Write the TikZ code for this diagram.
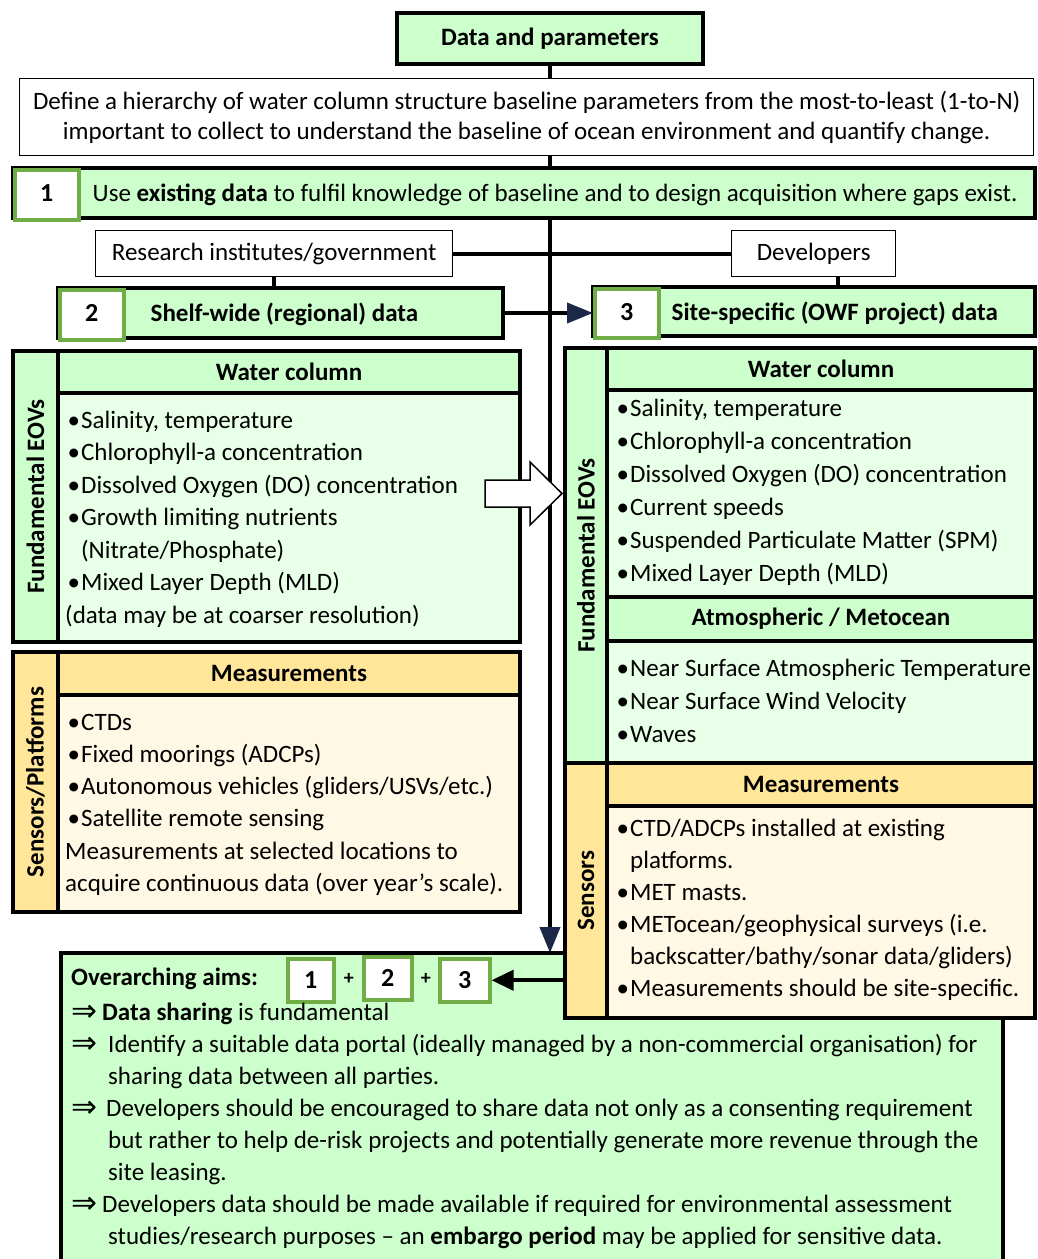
\documentclass[tikz,border=0pt]{standalone}
\usepackage{fontspec}
\setmainfont{Carlito}
\newfontfamily\symfont{DejaVu Sans}
\usetikzlibrary{arrows.meta,calc,positioning,backgrounds}

\definecolor{HeadClr}{RGB}{204,255,204}
\definecolor{BodyClr}{RGB}{232,255,232}
\definecolor{NumClr}{RGB}{112,173,71}
\definecolor{SensClr}{RGB}{255,230,153}
\definecolor{SensBodyClr}{RGB}{255,248,228}
\definecolor{TipClr}{RGB}{28,40,72}

\newcommand{\bl}{\hspace*{2.5pt}\textbullet\hspace{1pt}}
\newcommand{\blind}{\hspace*{2.5pt}\hphantom{\textbullet}\hspace{1pt}}
\newcommand{\imp}[1]{\makebox[#1][l]{\raisebox{-1.5pt}{\symfont\fontsize{31}{31}\selectfont ⇒}}}
\newcommand{\fst}{\rule{0pt}{19pt}}

\tikzset{
  frame/.style={draw=black,line width=3.5pt,inner sep=0pt,outer sep=0pt,anchor=north west},
  plain/.style={draw=black,line width=1.3pt,fill=white,inner sep=0pt,anchor=north west,font=\fontsize{25}{30}\selectfont},
  numbox/.style={draw=NumClr,line width=3.5pt,fill=white,inner sep=0pt,anchor=north west,font=\fontsize{26}{26}\selectfont\bfseries},
  hdr/.style={font=\fontsize{25}{30}\selectfont\bfseries},
  sidelbl/.style={rotate=90,inner sep=0pt,font=\fontsize{25}{30}\selectfont\bfseries},
  items/.style={anchor=north west,align=left,inner sep=0pt,font=\fontsize{25}{32.5}\selectfont},
  link/.style={line width=4pt},
  tipline/.style={line width=4pt,-{Triangle[length=26pt,width=20pt,color=TipClr]}},
}

\begin{document}
\begin{tikzpicture}[x=1pt,y=-1pt]
\useasboundingbox (0,0) rectangle (1037,1259);

% top of the chain
\node[frame,fill=HeadClr,minimum width=306,minimum height=51,hdr] (dp) at (397,13) {Data and parameters};
\node[plain,minimum width=1014,minimum height=77,align=center] (hier) at (19,78)
  {Define a hierarchy of water column structure baseline parameters from the most-to-least (1-to-N)\\
   important to collect to understand the baseline of ocean environment and quantify change.};

\node[frame,fill=HeadClr,minimum width=1022,minimum height=50] (s1) at (13,168) {};
\node[numbox,minimum width=64,minimum height=50] (n1) at (13,168) {\raisebox{3pt}{1}};
\node[right=12pt of n1,inner sep=0pt,font=\fontsize{25}{30}\selectfont] (s1txt)
  {Use \textbf{existing data} to fulfil knowledge of baseline and to design acquisition where gaps exist.};

\node[plain,minimum width=357,minimum height=46] (res) at (95,230) {Research institutes/government};
\node[plain,minimum width=164,minimum height=46] (dev) at (731,230) {Developers};

\node[frame,fill=HeadClr,minimum width=445,minimum height=50] (s2) at (58,288) {};
\node[numbox,minimum width=64,minimum height=50] (n2) at (58,288) {\raisebox{3pt}{2}};
\node[hdr,right=25pt of n2,inner sep=0pt] (s2txt) {Shelf-wide (regional) data};

\node[frame,fill=HeadClr,minimum width=442,minimum height=49] (s3) at (593,287) {};
\node[numbox,minimum width=64,minimum height=49] (n3) at (593,287) {\raisebox{3pt}{3}};
\node[hdr,right=11pt of n3,inner sep=0pt] (s3txt) {Site-specific (OWF project) data};

% shelf-wide panels
\node[frame,fill=HeadClr,minimum width=507,minimum height=291] (eovL) at (13,351) {};
\node[frame,fill=HeadClr,minimum width=462,minimum height=42,hdr] (wcL) at (58,351) {Water column};
\node[frame,fill=BodyClr,minimum width=462,minimum height=249] (wcLbody) at (58,393) {};
\node[sidelbl] (eovLlbl) at (35.5,496.5) {Fundamental EOVs};
\node[items] (wcLlist) at (65,409)
  {\fst\bl Salinity, temperature\\
   \bl Chlorophyll-a concentration\\
   \bl Dissolved Oxygen (DO) concentration\\
   \bl Growth limiting nutrients\\
   \blind(Nitrate/Phosphate)\\
   \bl Mixed Layer Depth (MLD)\\
   (data may be at coarser resolution)};

\node[frame,fill=SensClr,minimum width=507,minimum height=260] (senL) at (13,652) {};
\node[frame,fill=SensClr,minimum width=462,minimum height=43,hdr] (msL) at (58,652) {Measurements};
\node[frame,fill=SensBodyClr,minimum width=462,minimum height=217] (msLbody) at (58,695) {};
\node[sidelbl] (senLlbl) at (35.5,782) {Sensors/Platforms};
\node[items,font=\fontsize{25}{32.2}\selectfont] (msLlist) at (65,711)
  {\fst\bl CTDs\\
   \bl Fixed moorings (ADCPs)\\
   \bl Autonomous vehicles (gliders/USVs/etc.)\\
   \bl Satellite remote sensing\\
   Measurements at selected locations to\\
   acquire continuous data (over year’s scale).};

\draw[line width=1.5pt,fill=white] (485,480) -- (530,480) -- (530,462) -- (562,493.5)
  -- (530,525) -- (530,507) -- (485,507) -- cycle;

% overarching aims
\node[frame,fill=HeadClr,minimum width=942,minimum height=330] (ovr) at (61,953) {};
\node[hdr,anchor=west,inner sep=0pt] (aims) at (71,979) {Overarching aims:};
\node[numbox,minimum width=46,minimum height=43] (a1) at (286,957) {1};
\node[numbox,minimum width=48,minimum height=43] (a2) at (362,955) {2};
\node[numbox,minimum width=50,minimum height=43] (a3) at (438,957) {3};
\node[font=\fontsize{20}{20}\selectfont\bfseries] (p1) at ($(a1.east)!0.5!(a2.west)$) {+};
\node[font=\fontsize{20}{20}\selectfont\bfseries] (p2) at ($(a2.east)!0.5!(a3.west)$) {+};
\node[items,font=\fontsize{25}{32}\selectfont] (aimlist) at (71,1001)
  {\fst\imp{31pt}\textbf{Data sharing} is fundamental\\
   \imp{37pt}Identify a suitable data portal (ideally managed by a non-commercial organisation) for\\
   \hspace*{37pt}sharing data between all parties.\\
   \imp{35pt}Developers should be encouraged to share data not only as a consenting requirement\\
   \hspace*{37pt}but rather to help de-risk projects and potentially generate more revenue through the\\
   \hspace*{37pt}site leasing.\\
   \imp{31pt}Developers data should be made available if required for environmental assessment\\
   \hspace*{37pt}studies/research purposes -- an \textbf{embargo period} may be applied for sensitive data.};

% site-specific panels
\node[frame,fill=HeadClr,minimum width=470,minimum height=415] (eovR) at (565,348) {};
\node[frame,fill=HeadClr,minimum width=428,minimum height=42,hdr] (wcR) at (607,348) {Water column};
\node[frame,fill=BodyClr,minimum width=428,minimum height=207] (wcRbody) at (607,390) {};
\node[frame,fill=HeadClr,minimum width=428,minimum height=44,hdr] (atmR) at (607,597) {Atmospheric / Metocean};
\node[frame,fill=BodyClr,minimum width=428,minimum height=122] (atmRbody) at (607,641) {};
\node[sidelbl] (eovRlbl) at (586,555.5) {Fundamental EOVs};
\node[items,font=\fontsize{25}{33}\selectfont] (wcRlist) at (614,397)
  {\fst\bl Salinity, temperature\\
   \bl Chlorophyll-a concentration\\
   \bl Dissolved Oxygen (DO) concentration\\
   \bl Current speeds\\
   \bl Suspended Particulate Matter (SPM)\\
   \bl Mixed Layer Depth (MLD)};
\node[items,font=\fontsize{25}{33}\selectfont] (atmRlist) at (614,657)
  {\fst\bl Near Surface Atmospheric Temperature\\
   \bl Near Surface Wind Velocity\\
   \bl Waves};

\node[frame,fill=SensClr,minimum width=470,minimum height=255] (senR) at (565,763) {};
\node[frame,fill=SensClr,minimum width=428,minimum height=43,hdr] (msR) at (607,763) {Measurements};
\node[frame,fill=SensBodyClr,minimum width=428,minimum height=212] (msRbody) at (607,806) {};
\node[sidelbl] (senRlbl) at (586,890.5) {Sensors};
\node[items,font=\fontsize{25}{32}\selectfont] (msRlist) at (614,817)
  {\fst\bl CTD/ADCPs installed at existing\\
   \blind platforms.\\
   \bl MET masts.\\
   \bl METocean/geophysical surveys (i.e.\\
   \blind backscatter/bathy/sonar data/gliders)\\
   \bl Measurements should be site-specific.};

% connectors
\begin{scope}[on background layer]
\draw[tipline] (dp.south) -- (dp.south |- ovr.north);
\end{scope}
\draw[link] (res.east) -- (res.east -| dev.west);
\draw[link] (res.south) -- (res.south |- s2.north);
\draw[link] ([xshift=24pt]dev.south) -- ([xshift=24pt]dev.south |- s3.north);
\draw[tipline] (s2.east) -- (s2.east -| n3.west);
\draw[line width=4pt,-{Triangle[length=22pt,width=20pt]}] (senR.west |- a3.east) -- (a3.east);

\end{tikzpicture}
\end{document}
